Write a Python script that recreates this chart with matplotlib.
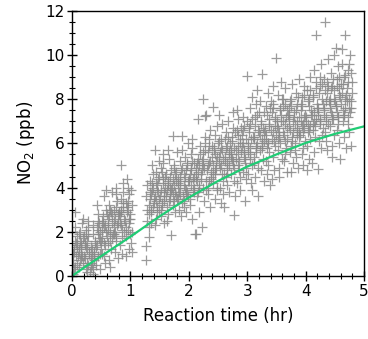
import matplotlib
matplotlib.use("Agg")
import matplotlib.pyplot as plt
from matplotlib.ticker import MultipleLocator

# ---- data (time in hr, NO2 in ppb) ----
t_a = [0.01,0.02,0.03,0.04,0.05,0.06,0.07,0.08,0.09,0.02,0.05,0.08,
       0.11,0.12,0.13,0.14,0.15,0.16,0.17,0.18,0.19,0.12,0.15,0.18,
       0.21,0.22,0.23,0.24,0.25,0.26,0.27,0.28,0.29,0.22,0.25,0.28,
       0.31,0.32,0.33,0.34,0.35,0.36,0.37,0.38,0.39,0.32,0.35,0.38,
       0.41,0.42,0.43,0.44,0.45,0.46,0.47,0.48,0.49,0.42,0.45,0.48,
       0.51,0.52,0.53,0.54,0.55,0.56,0.57,0.58,0.59,0.52,0.55,0.58,
       0.61,0.62,0.63,0.64,0.65,0.66,0.67,0.68,0.69,0.62,0.65,0.68,
       0.71,0.72,0.73,0.74,0.75,0.76,0.77,0.78,0.79,0.72,0.75,0.78,
       0.81,0.82,0.83,0.84,0.84,0.86,0.87,0.88,0.89,0.82,0.85,0.88,
       0.91,0.92,0.93,0.94,0.95,0.96,0.97,0.98,0.99,0.92,0.95,0.98,
       1.00,1.01,1.02,1.03,1.01,1.02]
no2_a = [0.1,0.6,1.2,0.3,2.9,1.5,0.9,1.8,0.5,1.0,2.2,1.3,
         1.1,0.4,1.6,2.0,0.8,1.3,2.4,0.6,1.7,1.9,1.0,2.6,
         0.9,1.5,0.3,2.1,1.2,0.6,1.8,2.5,1.0,1.4,0.2,2.2,
         0.2,0.8,1.3,0.5,1.9,0.1,1.1,0.7,1.6,0.4,2.3,1.0,
         0.5,1.4,2.2,0.9,2.8,1.7,0.3,2.0,1.2,3.2,2.5,1.6,
         2.1,1.0,2.7,3.6,1.5,0.6,2.3,3.0,1.8,2.5,0.9,3.9,
         1.5,2.6,0.7,3.2,2.0,1.2,2.9,3.8,1.7,2.3,0.4,2.8,
         2.2,3.0,1.1,2.6,4.0,1.6,3.4,0.8,2.4,1.9,3.7,2.8,
         2.9,1.4,3.5,2.3,5.0,1.0,3.1,4.2,2.0,2.7,1.7,3.8,
         2.5,3.3,1.8,4.4,2.1,3.0,1.2,3.7,2.8,0.9,4.0,2.4,
         2.6,1.5,3.2,2.0,3.9,1.1]

t_b = [1.26,1.27,1.28,1.29,1.27,1.28,
       1.31,1.32,1.33,1.34,1.35,1.36,1.37,1.38,1.39,1.32,1.35,1.38,
       1.41,1.42,1.43,1.44,1.45,1.46,1.47,1.48,1.49,1.42,1.45,1.48,
       1.51,1.52,1.53,1.54,1.55,1.56,1.57,1.58,1.59,1.52,1.55,1.58,
       1.64,1.62,1.63,1.61,1.65,1.66,1.67,1.68,1.69,1.62,1.65,1.68,
       1.72,1.70,1.73,1.74,1.75,1.76,1.77,1.78,1.79,1.72,1.75,1.78,
       1.88,1.82,1.83,1.84,1.85,1.86,1.87,1.81,1.89,1.82,1.85,1.88,
       1.91,1.92,1.93,1.94,1.95,1.96,1.97,1.98,1.99,1.92,1.95,1.98]
no2_b = [0.73,1.36,3.0,2.5,3.6,4.1,
         1.77,2.8,3.5,4.3,2.4,3.9,5.0,3.1,4.6,2.2,3.7,4.0,
         3.3,5.7,2.6,4.7,3.9,2.9,4.4,3.5,5.2,2.3,4.1,3.0,
         3.6,2.7,4.9,3.2,5.5,4.2,2.4,3.8,4.5,3.0,5.1,3.4,
         5.68,3.9,3.1,4.6,2.8,5.3,4.0,3.5,4.8,2.5,4.3,3.7,
         6.35,1.85,4.4,3.4,5.0,3.8,2.9,4.7,5.6,3.2,4.1,3.6,
         6.35,4.2,3.0,5.2,3.7,4.8,2.7,4.0,5.7,3.5,4.5,3.3,
         4.6,3.4,5.4,4.0,2.9,5.0,3.8,6.0,4.3,3.1,4.8,3.6]

t_c = [2.01,2.02,2.03,2.04,2.05,2.06,2.07,2.08,2.09,2.02,2.05,2.08,
       2.11,2.12,2.13,2.14,2.15,2.16,2.17,2.18,2.19,2.12,2.15,2.18,
       2.24,2.28,2.23,2.21,2.25,2.26,2.27,2.22,2.29,2.22,2.25,2.28,
       2.30,2.32,2.33,2.34,2.35,2.36,2.37,2.38,2.39,2.32,2.35,2.38,
       2.42,2.41,2.43,2.44,2.45,2.46,2.47,2.48,2.49,2.42,2.45,2.48,
       2.51,2.52,2.53,2.54,2.55,2.56,2.57,2.58,2.59,2.52,2.55,2.58,
       2.60,2.62,2.63,2.64,2.65,2.66,2.67,2.68,2.69,2.62,2.65,2.68,
       2.78,2.72,2.73,2.74,2.75,2.76,2.77,2.71,2.79,2.72,2.75,2.78,
       2.81,2.82,2.83,2.84,2.85,2.86,2.87,2.88,2.89,2.82,2.85,2.88,
       2.97,2.92,2.93,2.94,2.95,2.99,2.96,2.98,2.91,2.92,2.95,2.98]
no2_c = [4.3,3.2,5.5,4.8,2.6,6.2,3.9,5.1,4.5,3.5,5.8,4.0,
         1.88,1.92,4.6,3.6,5.3,7.1,4.1,2.9,5.9,4.9,3.8,5.0,
         8.0,7.22,2.2,4.4,5.6,3.4,6.3,4.8,3.9,5.2,4.0,6.0,
         7.28,5.0,3.7,5.9,4.3,6.6,3.1,4.7,5.4,4.0,6.2,4.5,
         7.66,4.6,5.7,3.5,6.4,4.9,5.2,3.9,6.8,4.2,5.5,4.0,
         5.1,6.1,4.0,5.6,3.3,6.9,4.6,5.3,4.3,7.3,5.8,3.7,
         3.1,5.4,6.5,4.5,5.9,4.1,7.0,5.0,3.8,6.2,4.8,5.6,
         2.75,5.7,4.6,6.3,5.2,7.4,4.3,6.0,3.6,5.5,6.7,4.9,
         5.3,6.6,4.2,5.9,7.1,4.8,6.2,3.9,5.6,7.5,5.0,4.5,
         3.4,6.0,4.7,5.4,6.8,9.05,5.1,4.4,6.4,7.2,5.7,4.9]

t_d = [3.01,3.02,3.03,3.04,3.05,3.06,3.07,3.08,3.09,3.02,3.05,3.08,
       3.11,3.12,3.13,3.14,3.15,3.16,3.17,3.18,3.19,3.12,3.15,3.18,
       3.26,3.22,3.23,3.24,3.25,3.21,3.27,3.28,3.29,3.22,3.25,3.28,
       3.31,3.32,3.33,3.34,3.35,3.36,3.37,3.38,3.39,3.32,3.35,3.38,
       3.49,3.42,3.43,3.44,3.45,3.46,3.47,3.48,3.41,3.42,3.45,3.48,
       3.51,3.52,3.53,3.54,3.55,3.56,3.57,3.58,3.59,3.52,3.55,3.58,
       3.61,3.62,3.63,3.64,3.65,3.66,3.67,3.68,3.69,3.62,3.65,3.68,
       3.75,3.72,3.73,3.74,3.71,3.76,3.77,3.78,3.79,3.72,3.75,3.78,
       3.81,3.82,3.83,3.84,3.85,3.86,3.87,3.88,3.89,3.82,3.85,3.88,
       3.91,3.92,3.93,3.94,3.95,3.96,3.97,3.98,3.99,3.92,3.95,3.98]
no2_d = [5.9,4.6,6.7,5.3,7.6,4.2,6.2,5.0,8.1,5.6,6.9,3.9,
         6.3,5.1,7.2,4.5,5.8,8.4,6.0,4.9,6.6,5.4,7.8,3.6,
         9.13,5.7,6.9,4.8,6.2,7.4,5.3,6.5,4.3,7.9,5.9,6.1,
         6.6,5.2,7.7,4.6,6.0,8.3,5.6,7.1,4.1,6.4,5.0,6.8,
         9.85,6.2,7.4,5.4,8.6,4.8,6.8,5.9,7.9,4.4,6.5,7.1,
         7.0,5.7,8.2,6.3,4.9,7.6,6.0,8.8,5.3,6.7,4.5,7.3,
         6.5,7.7,5.2,6.9,8.5,5.8,7.2,4.7,6.2,8.0,5.5,7.5,
         4.7,6.8,7.9,5.6,7.3,6.1,8.7,5.1,6.5,7.6,5.9,7.0,
         7.2,6.0,8.3,5.4,6.7,7.8,4.9,6.3,8.9,5.7,7.0,6.5,
         6.4,7.5,5.5,8.1,6.9,5.0,7.2,8.6,6.1,7.8,5.8,6.7]

t_e = [4.01,4.02,4.03,4.04,4.05,4.06,4.07,4.08,4.09,4.02,4.05,4.08,
       4.18,4.12,4.13,4.14,4.15,4.16,4.17,4.11,4.19,4.12,4.15,4.18,
       4.22,4.21,4.23,4.24,4.25,4.26,4.27,4.28,4.29,4.22,4.25,4.28,
       4.33,4.32,4.31,4.34,4.35,4.36,4.37,4.38,4.39,4.32,4.35,4.38,
       4.41,4.42,4.43,4.44,4.45,4.46,4.47,4.48,4.49,4.42,4.45,4.48,
       4.59,4.52,4.53,4.54,4.55,4.56,4.57,4.58,4.51,4.52,4.55,4.58,
       4.62,4.68,4.63,4.64,4.65,4.66,4.67,4.61,4.69,4.62,4.65,4.68,
       4.71,4.72,4.73,4.74,4.75,4.76,4.77,4.78,4.79,4.72,4.75,4.78]
no2_e = [7.0,5.9,8.4,6.5,7.7,5.3,9.0,6.2,7.3,4.8,8.0,6.8,
         10.9,6.9,8.2,5.6,7.4,6.3,8.8,5.1,7.8,6.6,9.3,7.1,
         4.85,7.6,6.1,8.6,7.0,9.6,5.8,8.0,6.7,7.3,9.0,6.4,
         11.5,7.3,8.9,6.5,7.9,5.7,8.3,6.9,9.8,7.6,6.1,8.6,
         8.0,6.8,9.2,7.4,5.9,8.6,7.1,10.0,6.4,7.8,5.4,8.4,
         5.3,7.7,8.9,6.6,9.5,7.2,8.2,6.0,7.9,10.3,6.9,8.5,
         10.26,10.9,8.3,7.0,9.0,6.3,7.6,8.7,5.8,9.6,7.3,8.0,
         8.5,7.2,9.3,6.5,8.0,10.0,7.6,5.9,8.8,6.9,9.6,7.9]

# denser core of the cloud
t_core1 = [0.015,0.035,0.055,0.075,0.095,0.045,
           0.115,0.135,0.155,0.175,0.195,0.145,
           0.215,0.235,0.255,0.275,0.295,0.245,
           0.315,0.335,0.355,0.375,0.395,0.345,
           0.415,0.435,0.455,0.475,0.495,0.445,
           0.515,0.535,0.555,0.575,0.595,0.545,
           0.615,0.635,0.655,0.675,0.695,0.645,
           0.715,0.735,0.755,0.775,0.795,0.745,
           0.815,0.835,0.855,0.875,0.895,0.845,
           0.915,0.935,0.955,0.975,0.995,0.945]
no2_core1 = [0.7,1.1,0.4,1.4,0.9,1.6,
             1.2,0.7,1.5,0.9,1.8,1.3,
             0.8,1.3,1.6,0.5,1.1,1.9,
             0.6,1.2,0.3,0.9,1.5,0.8,
             1.3,1.9,2.4,1.0,1.6,2.1,
             1.7,2.4,1.4,2.0,2.8,2.2,
             2.1,2.7,1.6,2.4,1.9,3.0,
             2.5,2.0,3.1,2.3,2.8,1.8,
             2.4,3.0,2.1,3.3,2.6,2.9,
             2.2,2.9,3.4,2.6,1.9,3.1]

t_core2 = [1.315,1.335,1.355,1.375,1.395,1.345,
           1.415,1.435,1.455,1.475,1.495,1.445,
           1.515,1.535,1.555,1.575,1.595,1.545,
           1.615,1.635,1.655,1.675,1.695,1.645,
           1.715,1.735,1.755,1.775,1.795,1.745,
           1.815,1.835,1.855,1.875,1.895,1.845,
           1.915,1.935,1.955,1.975,1.995,1.945,
           2.015,2.035,2.055,2.075,2.095,2.045,
           2.115,2.135,2.155,2.175,2.195,2.145,
           2.215,2.235,2.255,2.275,2.295,2.245,
           2.315,2.335,2.355,2.375,2.395,2.345,
           2.415,2.435,2.455,2.475,2.495,2.445,
           2.515,2.535,2.555,2.575,2.595,2.545,
           2.615,2.635,2.655,2.675,2.695,2.645,
           2.715,2.735,2.755,2.775,2.795,2.745,
           2.815,2.835,2.855,2.875,2.895,2.845,
           2.915,2.935,2.955,2.975,2.995,2.945]
no2_core2 = [3.2,3.8,2.9,4.2,3.5,3.0,
             3.6,4.2,3.1,3.8,4.5,3.4,
             3.9,3.3,4.4,3.6,4.0,4.7,
             3.6,4.2,3.4,4.5,3.9,4.1,
             4.0,3.7,4.6,4.3,3.5,4.9,
             4.4,3.8,4.1,4.9,3.6,4.3,
             4.1,4.5,3.9,5.1,4.4,3.7,
             4.6,4.1,5.2,4.4,3.8,4.9,
             4.4,5.1,4.7,4.0,5.5,4.3,
             4.6,5.3,4.9,5.7,4.3,5.0,
             4.8,5.6,5.2,4.4,5.9,5.1,
             5.0,5.8,4.6,5.4,6.0,4.8,
             5.4,4.9,6.2,5.7,4.6,5.0,
             5.2,5.8,4.9,6.3,5.5,5.1,
             5.4,6.1,5.0,5.8,6.5,5.3,
             5.7,6.4,5.2,6.0,6.7,5.5,
             5.9,6.6,5.3,6.2,7.0,5.6]

t_core3 = [3.015,3.035,3.055,3.075,3.095,3.045,
           3.115,3.135,3.155,3.175,3.195,3.145,
           3.215,3.235,3.255,3.275,3.295,3.245,
           3.315,3.335,3.355,3.375,3.395,3.345,
           3.415,3.435,3.455,3.475,3.495,3.445,
           3.515,3.535,3.555,3.575,3.595,3.545,
           3.615,3.635,3.655,3.675,3.695,3.645,
           3.715,3.735,3.755,3.775,3.795,3.745,
           3.815,3.835,3.855,3.875,3.895,3.845,
           3.915,3.935,3.955,3.975,3.995,3.945,
           4.015,4.035,4.055,4.075,4.095,4.045,
           4.115,4.135,4.155,4.175,4.195,4.145,
           4.215,4.235,4.255,4.275,4.295,4.245,
           4.315,4.335,4.355,4.375,4.395,4.345,
           4.415,4.435,4.455,4.475,4.495,4.445,
           4.515,4.535,4.555,4.575,4.595,4.545,
           4.615,4.635,4.655,4.675,4.695,4.645,
           4.715,4.735,4.755,4.775,4.795,4.745]
no2_core3 = [6.0,6.5,5.5,7.1,6.3,5.8,
             6.2,6.8,5.6,7.3,6.5,5.9,
             6.4,7.0,5.8,6.7,7.4,6.0,
             6.2,7.3,6.0,6.9,7.6,5.8,
             6.6,7.6,6.1,7.2,6.4,7.8,
             6.8,6.2,7.5,7.0,8.0,6.5,
             7.0,6.4,7.8,6.7,7.3,6.1,
             7.1,6.6,7.7,6.3,7.4,8.0,
             6.9,7.5,6.4,8.1,7.2,6.6,
             7.0,7.7,6.5,8.2,7.3,6.8,
             7.2,7.9,6.6,8.4,7.5,6.9,
             7.3,8.1,6.8,8.5,7.6,7.0,
             7.4,8.3,6.9,8.7,7.8,7.1,
             7.5,8.4,7.0,8.8,7.9,7.2,
             7.6,8.5,7.1,8.9,8.0,7.3,
             7.7,8.6,7.2,9.0,8.1,7.4,
             7.8,8.7,7.3,9.1,8.2,7.5,
             7.9,8.8,7.4,9.2,8.3,7.6]

# fitted curve
fit_t = [0.0, 0.25, 0.5, 1.0, 1.5, 2.0, 2.5, 3.0, 3.5, 4.0, 4.5, 5.0]
fit_no2 = [0.0, 0.46, 0.9, 1.78, 2.7, 3.55, 4.3, 4.95, 5.5, 6.02, 6.43, 6.77]

fig = plt.figure(figsize=(3.68, 3.39), dpi=100)
ax = fig.add_axes([0.196, 0.186, 0.793, 0.782])

series = [(t_a, no2_a), (t_b, no2_b), (t_c, no2_c), (t_d, no2_d), (t_e, no2_e),
          (t_core1, no2_core1), (t_core2, no2_core2), (t_core3, no2_core3)]
for tt, yy in series:
    ax.plot(tt, yy, linestyle='none', marker='+', markersize=7, markeredgewidth=0.9,
            color='#8a8a8a', alpha=0.85)

ax.plot(fit_t, fit_no2, color='#1fcc74', linewidth=1.6)

ax.set_xlim(0, 5)
ax.set_ylim(0, 12)
ax.xaxis.set_major_locator(MultipleLocator(1))
ax.xaxis.set_minor_locator(MultipleLocator(0.2))
ax.yaxis.set_major_locator(MultipleLocator(2))
ax.yaxis.set_minor_locator(MultipleLocator(0.5))
ax.tick_params(which='major', direction='inout', length=7, width=1, labelsize=11, pad=2)
ax.tick_params(which='minor', direction='inout', length=4, width=0.8)
for s in ax.spines.values():
    s.set_linewidth(1)

ax.set_xlabel('Reaction time (hr)', fontsize=12, labelpad=6)
ax.set_ylabel('NO$_2$ (ppb)', fontsize=12, labelpad=6)

fig.savefig('out.png', dpi=100)
